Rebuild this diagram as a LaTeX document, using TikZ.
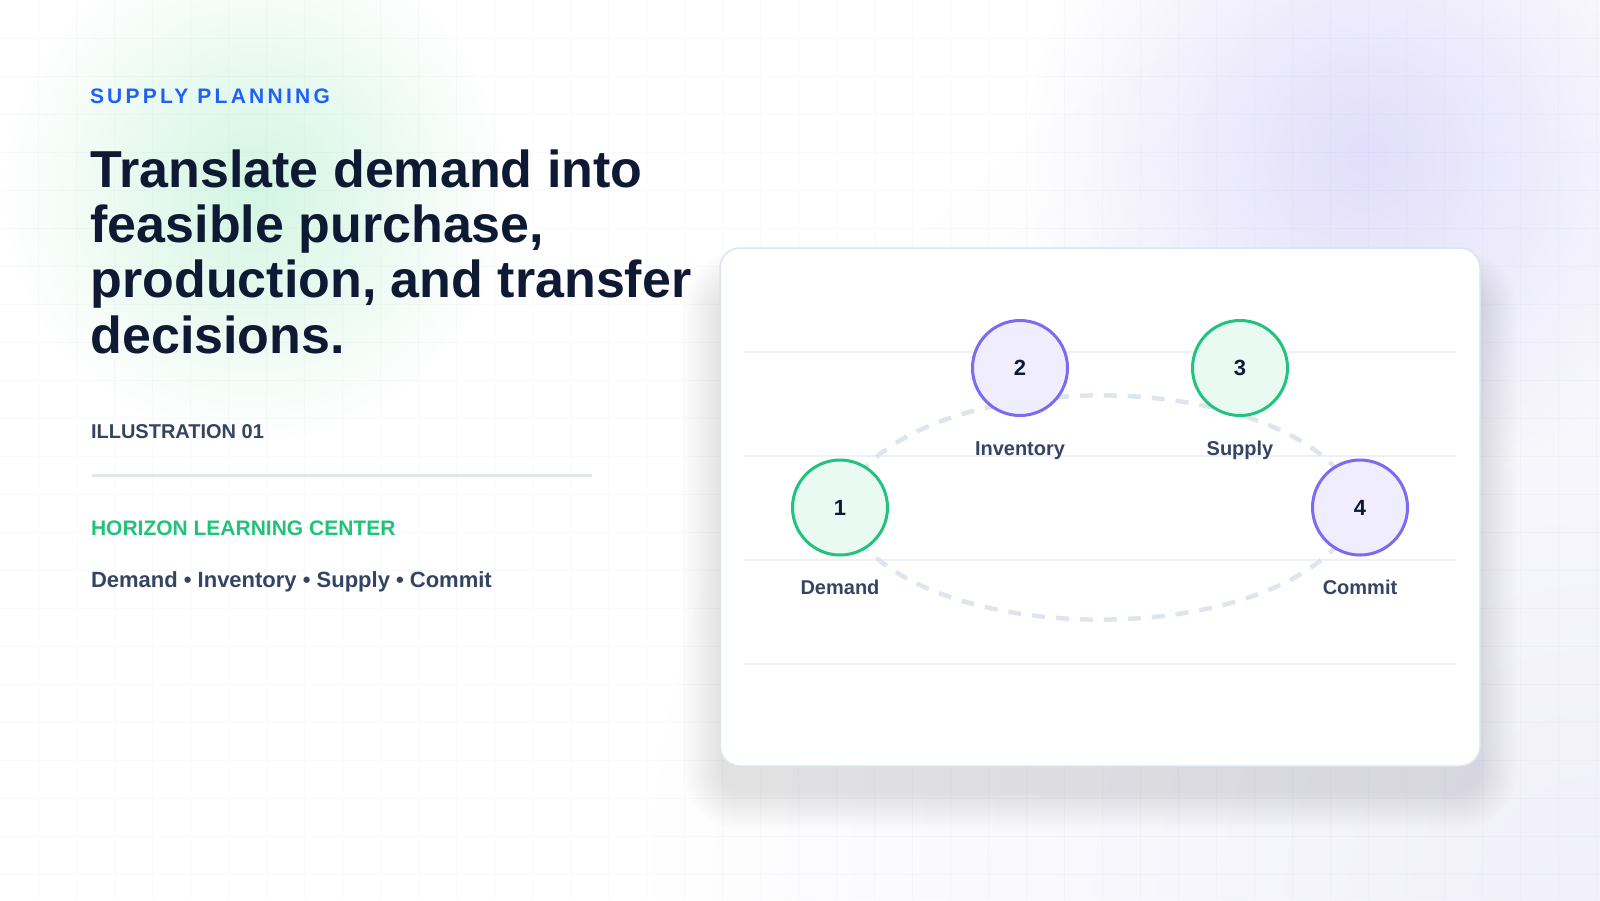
\documentclass[tikz,border=0pt]{standalone}
\usepackage{fontspec}
\setmainfont{Liberation Sans}
\usetikzlibrary{fadings}
\pgfdeclarelayer{back}
\pgfdeclarelayer{mid}
\pgfsetlayers{back,mid,main}

\definecolor{bgbase}{HTML}{FFFFFF}
\definecolor{lavbig}{HTML}{F1F0FB}
\definecolor{purpleglow}{HTML}{E2DEFB}
\definecolor{greenglow}{HTML}{D3F6E2}
\definecolor{gridc}{HTML}{94A3B8}
\definecolor{shadowc}{HTML}{5B6B8C}
\definecolor{cardborder}{HTML}{DCE4ED}
\definecolor{cardline}{HTML}{EDF1F6}
\definecolor{flowc}{HTML}{DEE5EE}
\definecolor{kicker}{HTML}{1F5FFA}
\definecolor{navy}{HTML}{0E1A33}
\definecolor{slate}{HTML}{354463}
\definecolor{brandgreen}{HTML}{22C27A}
\definecolor{divider}{HTML}{E0E7EF}
\definecolor{gfill}{HTML}{E9FAF2}
\definecolor{gstroke}{HTML}{22C37E}
\definecolor{pfill}{HTML}{EFEDFE}
\definecolor{pstroke}{HTML}{7A6BF5}

\tikzfading[name=glowfade, inner color=transparent!0, outer color=transparent!100]

\tikzset{
  txt/.style={anchor=base west, inner sep=0pt, outer sep=0pt},
  kickertxt/.style={txt, text=kicker, font=\fontsize{21}{25}\selectfont\bfseries\addfontfeatures{LetterSpace=15.5}},
  titletxt/.style={txt, text=navy, font=\fontsize{52}{56}\selectfont\bfseries},
  metatxt/.style={txt, text=slate, font=\fontsize{20}{24}\selectfont\bfseries},
  brandtxt/.style={txt, text=brandgreen, font=\fontsize{21}{25}\selectfont\bfseries},
  steptxt/.style={txt, text=slate, font=\fontsize{22}{26}\selectfont\bfseries},
  cardbox/.style={draw=cardborder, line width=1.5pt, fill=white, rounded corners=20pt,
    minimum width=760pt, minimum height=518pt, inner sep=0pt},
  stepnode/.style={circle, minimum size=95pt, inner sep=0pt, line width=3pt,
    text=navy, font=\fontsize{22}{26}\selectfont\bfseries},
  greennode/.style={stepnode, draw=gstroke, fill=gfill},
  purplenode/.style={stepnode, draw=pstroke, fill=pfill},
  lbl/.style={anchor=base, inner sep=0pt, text=slate, font=\fontsize{20}{24}\selectfont\bfseries},
  flow/.style={draw=flowc, line width=4.5pt, dash pattern=on 13pt off 11pt, dash phase=9pt},
  gridline/.style={draw=gridc, draw opacity=0.05, line width=1pt},
  cardrule/.style={draw=cardline, line width=2pt},
}

\begin{document}
\begin{tikzpicture}[x=1pt, y=-1pt]
\useasboundingbox (0,0) rectangle (1600,900);

\begin{pgfonlayer}{back}
  % background
  \fill[bgbase] (0,0) rectangle (1600,900);
  \fill[lavbig, path fading=glowfade] (1600,900) circle (950);
  \fill[purpleglow, path fading=glowfade] (1367,153) circle (340);
  \fill[greenglow, path fading=glowfade] (255,190) circle (250);
  % grid
  \foreach \gx in {38,76,...,1596} {\draw[gridline] (\gx,0) -- (\gx,900);}
  \foreach \gy in {38,76,...,898} {\draw[gridline] (0,\gy) -- (1600,\gy);}
  % card shadow
  \foreach \i in {1,...,14} {
    \pgfmathsetmacro{\r}{\i*2.8}
    \pgfmathsetmacro{\rc}{20+\i*2.8}
    \fill[shadowc, fill opacity=0.011, rounded corners=\rc pt]
      (722-\r,290-\r) rectangle (1478+\r,790+\r);
  }
  % card
  \node[cardbox] (card) at (1100,507) {};
  \foreach \ly in {352,456,560,664} {\draw[cardrule] (744,\ly) -- (1456,\ly);}
\end{pgfonlayer}

% left text block
\node[kickertxt] (kick) at (90,103.7) {SUPPLY PLANNING};
\node[titletxt] (t1) at (90.5,187.3) {Translate demand into};
\node[titletxt] (t2) at (90.5,242.6) {feasible purchase,};
\node[titletxt] (t3) at (90.5,297.9) {production, and transfer};
\node[titletxt] (t4) at (90.5,353.2) {decisions.};
\node[metatxt] (ill) at (91,438.3) {ILLUSTRATION 01};
\coordinate (dl) at (92,475.7);
\coordinate (dr) at (592,475.7);
\draw[divider, line width=3pt] (dl) -- (dr);
\node[brandtxt] (brand) at (91,535.3) {HORIZON LEARNING CENTER};
\node[steptxt] (steps) at (91,587.7) {Demand • Inventory • Supply • Commit};

% diagram nodes
\node[greennode]  (n1) at (840,507.5) {1};
\node[purplenode] (n2) at (1020,368) {2};
\node[greennode]  (n3) at (1240,368) {3};
\node[purplenode] (n4) at (1360,507.5) {4};

\node[lbl] (l1) at (840,594.5) {Demand};
\node[lbl] (l2) at (1020,455) {Inventory};
\node[lbl] (l3) at (1240,455) {Supply};
\node[lbl] (l4) at (1360,594.5) {Commit};

\begin{pgfonlayer}{mid}
  \draw[flow] (n1.center) .. controls (890,358) and (1310,358) .. (n4.center);
  \draw[flow] (n1.center) .. controls (890,657) and (1310,657) .. (n4.center);
\end{pgfonlayer}
\end{tikzpicture}
\end{document}
